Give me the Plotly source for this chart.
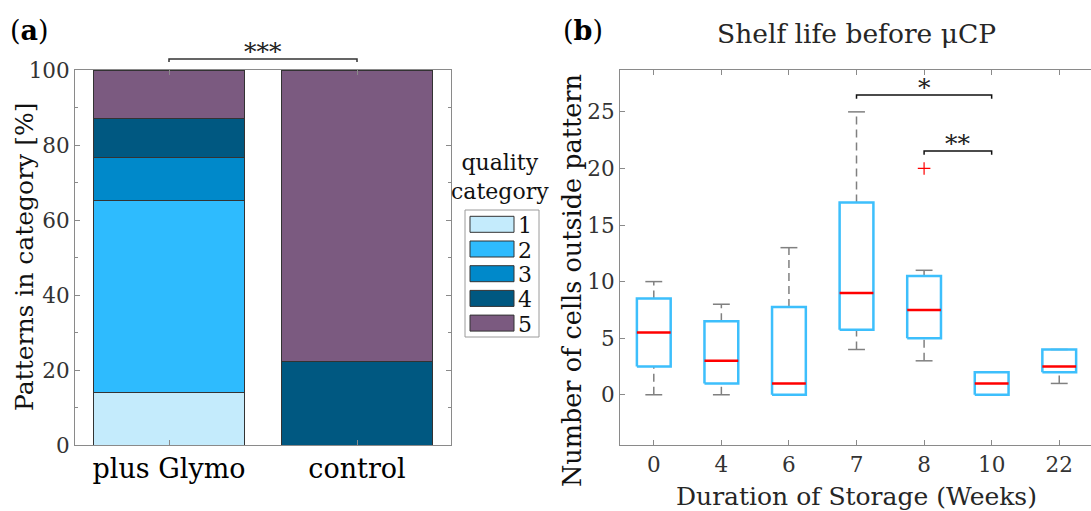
import plotly.graph_objects as go

# ---------------- data: panel (a) ----------------
groups_a = ["plus Glymo", "control"]
quality_categories = ["1", "2", "3", "4", "5"]
pct_cat1 = [14.0, 0.0]
pct_cat2 = [51.2, 0.0]
pct_cat3 = [11.6, 0.0]
pct_cat4 = [10.4, 22.2]
pct_cat5 = [12.8, 77.8]
cat_colors = ["#C4EBFC", "#2EBBFE", "#0089CA", "#005881", "#7B5A80"]

# ---------------- data: panel (b) ----------------
weeks = ["0", "4", "6", "7", "8", "10", "22"]
whisker_low = [0, 0, 0, 4, 3, 0, 1]
q1 = [2.5, 1, 0, 5.75, 5, 0, 2]
median = [5.5, 3, 1, 9, 7.5, 1, 2.5]
q3 = [8.5, 6.5, 7.75, 17, 10.5, 2, 4]
whisker_high = [10, 8, 13, 25, 11, 2, 4]
outlier_week = ["8"]
outlier_val = [20]

FONT = "DejaVu Serif"
AXCOL = "#8a8a8a"
TXT = "#262626"

W, H = 1091, 511
ML, MR, MT, MB = 0, 0, 70, 66

fig = go.Figure()

# ---- stacked bars (a)
xa = [i + 1 for i in range(len(groups_a))]
series = [pct_cat1, pct_cat2, pct_cat3, pct_cat4, pct_cat5]
for name, vals, col in zip(quality_categories, series, cat_colors):
    fig.add_trace(go.Bar(x=xa, y=vals, name=name, width=0.8,
                         marker=dict(color=col, line=dict(color="#333333", width=1)),
                         xaxis="x", yaxis="y", showlegend=False))

# ---- box plots (b)
xb = [i + 1 for i in range(len(weeks))]
hw = 0.25   # half box width
cw = 0.125  # half cap width

wx, wy, cx, cy, bx, by, mx, my = [], [], [], [], [], [], [], []
for x, lo, a, m, b, hi in zip(xb, whisker_low, q1, median, q3, whisker_high):
    wx += [x, x, None, x, x, None]
    wy += [b, hi, None, lo, a, None]
    cx += [x - cw, x + cw, None, x - cw, x + cw, None]
    cy += [hi, hi, None, lo, lo, None]
    bx += [x - hw, x + hw, x + hw, x - hw, x - hw, None]
    by += [a, a, b, b, a, None]
    mx += [x - hw, x + hw, None]
    my += [m, m, None]

fig.add_trace(go.Scatter(x=wx, y=wy, mode="lines", xaxis="x2", yaxis="y2",
                         line=dict(color="#808080", width=1.5, dash="8px,5px"),
                         showlegend=False, hoverinfo="skip"))
fig.add_trace(go.Scatter(x=cx, y=cy, mode="lines", xaxis="x2", yaxis="y2",
                         line=dict(color="#808080", width=1.5),
                         showlegend=False, hoverinfo="skip"))
fig.add_trace(go.Scatter(x=bx, y=by, mode="lines", xaxis="x2", yaxis="y2",
                         line=dict(color="#3DBFFC", width=2.5),
                         showlegend=False, hoverinfo="skip"))
fig.add_trace(go.Scatter(x=mx, y=my, mode="lines", xaxis="x2", yaxis="y2",
                         line=dict(color="#FF0000", width=2.5),
                         showlegend=False, hoverinfo="skip"))
ox = [weeks.index(w) + 1 for w in outlier_week]
fig.add_trace(go.Scatter(x=ox, y=outlier_val, mode="markers", xaxis="x2", yaxis="y2",
                         marker=dict(symbol="cross-thin", size=9,
                                     line=dict(color="#FF0000", width=1.2)),
                         showlegend=False, hoverinfo="skip"))

def px_x(p):
    return p / W

def px_y(p):
    # paper y from pixel y (top origin)
    ph = H - MT - MB
    return (H - MB - p) / ph

annotations = []
shapes = []

# ---- panel labels
annotations.append(dict(text="(<b>a</b>)", x=px_x(8), y=px_y(31), xref="paper", yref="paper",
                        xanchor="left", yanchor="middle", showarrow=False,
                        font=dict(family=FONT, size=27, color="black")))
annotations.append(dict(text="(<b>b</b>)", x=px_x(561), y=px_y(31), xref="paper", yref="paper",
                        xanchor="left", yanchor="middle", showarrow=False,
                        font=dict(family=FONT, size=27, color="black")))

# ---- axis titles
annotations.append(dict(text="Patterns in category [%]", x=px_x(24), y=px_y(257), xref="paper",
                        yref="paper", textangle=-90, showarrow=False, xanchor="center",
                        yanchor="middle", font=dict(family=FONT, size=25, color="#111111")))
annotations.append(dict(text="Number of cells outside pattern", x=px_x(572), y=px_y(281),
                        xref="paper", yref="paper", textangle=-90, showarrow=False,
                        xanchor="center", yanchor="middle",
                        font=dict(family=FONT, size=25.5, color="#111111")))
annotations.append(dict(text="Duration of Storage (Weeks)", x=px_x(856), y=px_y(496),
                        xref="paper", yref="paper", showarrow=False, xanchor="center",
                        yanchor="middle", font=dict(family=FONT, size=25, color="#262626")))
annotations.append(dict(text="Shelf life before μCP", x=px_x(856), y=px_y(34),
                        xref="paper", yref="paper", showarrow=False, xanchor="center",
                        yanchor="middle", font=dict(family=FONT, size=26.5, color="#262626")))

# ---- significance (a)
ya_line = px_y(59)
ya_end = px_y(62)
shapes.append(dict(type="path", xref="x", yref="paper",
                   path=f"M 1,{ya_end} L 1,{ya_line} L 2,{ya_line} L 2,{ya_end}",
                   line=dict(color="#333333", width=1.5)))
annotations.append(dict(text="***", x=1.5, y=ya_line, xref="x", yref="paper", showarrow=False,
                        yanchor="bottom", yshift=-9, font=dict(family=FONT, size=25, color="#222222")))

# ---- significance (b)
def bracket(x0, x1, yl, drop, label):
    shapes.append(dict(type="path", xref="x2", yref="y2",
                       path=f"M {x0},{yl - drop} L {x0},{yl} L {x1},{yl} L {x1},{yl - drop}",
                       line=dict(color="#111111", width=1.5)))
    annotations.append(dict(text=label, x=(x0 + x1) / 2, y=yl, xref="x2", yref="y2",
                            showarrow=False, yanchor="bottom", yshift=-9,
                            font=dict(family=FONT, size=25, color="#222222")))

bracket(weeks.index("7") + 1, weeks.index("10") + 1, 26.5, 0.35, "*")
bracket(weeks.index("8") + 1, weeks.index("10") + 1, 21.55, 0.35, "**")

# ---- legend (a), drawn manually
shapes.append(dict(type="rect", xref="paper", yref="paper", x0=px_x(465), x1=px_x(539),
                   y0=px_y(337), y1=px_y(210), line=dict(color="#9a9a9a", width=1),
                   fillcolor="white"))
annotations.append(dict(text="quality<br>category", x=px_x(500), y=px_y(177), xref="paper",
                        yref="paper", showarrow=False, xanchor="center", yanchor="middle",
                        font=dict(family=FONT, size=22, color="#111111")))
for k, (name, col) in enumerate(zip(quality_categories, cat_colors)):
    cyk = 224.3 + k * 24.7
    shapes.append(dict(type="rect", xref="paper", yref="paper", x0=px_x(470), x1=px_x(514),
                       y0=px_y(cyk + 8), y1=px_y(cyk - 8), fillcolor=col,
                       line=dict(color="#333333", width=1)))
    annotations.append(dict(text=name, x=px_x(516), y=px_y(cyk + 1), xref="paper", yref="paper",
                            showarrow=False, xanchor="left", yanchor="middle",
                            font=dict(family=FONT, size=22, color="#111111")))

axis_common = dict(showline=True, linecolor=AXCOL, linewidth=1, ticks="inside", ticklen=5,
                   tickcolor=AXCOL, showgrid=False, zeroline=False, automargin=False)

fig.update_layout(
    width=W, height=H, margin=dict(l=ML, r=MR, t=MT, b=MB),
    paper_bgcolor="white", plot_bgcolor="white", template="none",
    barmode="stack", bargap=0.2, showlegend=False,
    font=dict(family=FONT, color=TXT),
    xaxis=dict(domain=[px_x(75), px_x(451)], range=[0.5, 2.5], tickvals=xa, ticktext=groups_a,
               mirror="ticks", tickfont=dict(family=FONT, size=27, color="black"), anchor="y",
               **axis_common),
    yaxis=dict(domain=[0, 1], range=[0, 100], tickvals=[0, 20, 40, 60, 80, 100], mirror="allticks",
               minor=dict(ticks="inside", ticklen=3, tickcolor=AXCOL, tickvals=[10, 30, 50, 70, 90]),
               tickfont=dict(family=FONT, size=21.5, color="#333333"), anchor="x", **axis_common),
    xaxis2=dict(domain=[px_x(620), 1.0], range=[0.5, 7.47], tickvals=xb, ticktext=weeks,
                mirror="ticks", tickfont=dict(family=FONT, size=21.5, color="#333333"), anchor="y2",
                **axis_common),
    yaxis2=dict(domain=[0, 1], range=[-4.44, 28.7], tickvals=[0, 5, 10, 15, 20, 25],
                mirror=False, tickfont=dict(family=FONT, size=21.5, color="#333333"), anchor="x2",
                **axis_common),
    shapes=shapes, annotations=annotations,
)

fig.write_html("out.html", config={"displayModeBar": False},
               post_script="document.body.style.margin='0';document.body.style.overflow='hidden';")
